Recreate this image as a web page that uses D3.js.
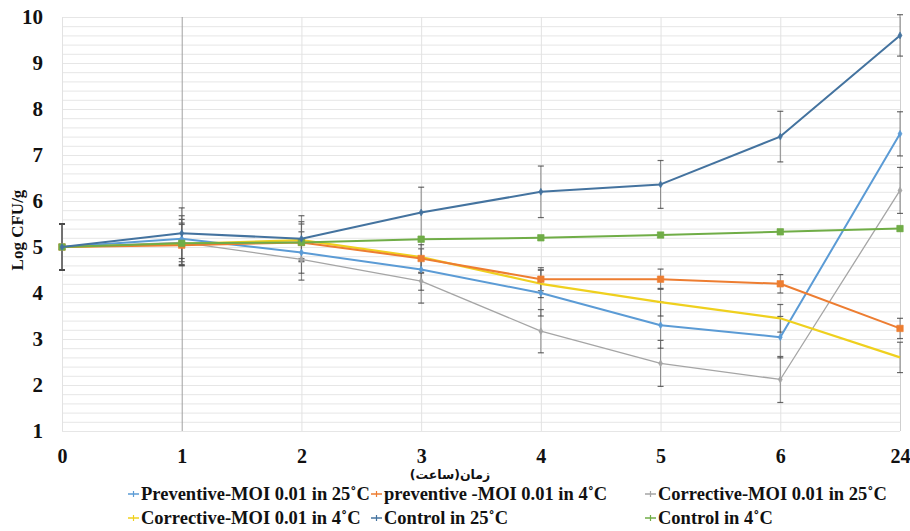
<!DOCTYPE html>
<html><head><meta charset="utf-8">
<script src="https://cdn.jsdelivr.net/npm/d3@7"></script>
<style>
html,body{margin:0;padding:0;background:#fff;}
svg{display:block;}
</style></head>
<body>
<svg id="chart" width="910" height="531"></svg>
<script>
// ---- data ----
const categories = ["0","1","2","3","4","5","6","24"];
const yTicks = [1,2,3,4,5,6,7,8,9,10];
const seriesNames = [
  "Preventive-MOI 0.01 in 25\u02DAC",
  "preventive -MOI 0.01 in 4\u02DAC",
  "Corrective-MOI 0.01 in 25\u02DAC",
  "Corrective-MOI 0.01 in 4\u02DAC",
  "Control in 25\u02DAC",
  "Control in 4\u02DAC"
];
const prev25   = [5, 5.18, 4.88, 4.51, 4.00, 3.30, 3.04, 7.46];
const prev4    = [5, 5.04, 5.10, 4.75, 4.30, 4.30, 4.20, 3.23];
const corr25   = [5, 5.10, 4.73, 4.26, 3.17, 2.47, 2.12, 6.23];
const corr4    = [5, 5.07, 5.15, 4.78, 4.20, 3.80, 3.45, 2.60];
const ctrl25   = [5, 5.30, 5.18, 5.75, 6.20, 6.36, 7.40, 9.60];
const ctrl4    = [5, 5.08, 5.10, 5.17, 5.20, 5.26, 5.33, 5.40];
const prev25Err = [0.50, 0.50, 0.45, 0.45, 0.50, 0.50, 0.45, 0.48];
const prev4Err  = [0.50, 0.45, 0.40, 0.30, 0.25, 0.22, 0.20, 0.22];
const corr25Err = [0.50, 0.50, 0.45, 0.48, 0.47, 0.50, 0.50, 0.50];
const corr4Err  = [0.50, 0.45, 0.40, 0.35, 0.30, 0.30, 0.30, 0.33];
const ctrl25Err = [0.50, 0.55, 0.50, 0.55, 0.56, 0.52, 0.55, 0.45];
const ctrl4Err  = [0.05, 0.05, 0.05, 0.05, 0.05, 0.05, 0.05, 0.05];
const yTitle = "Log CFU/g";
const xTitle = "زمان(ساعت)";

// ---- styles ----
const colors  = ["#5B9BD5", "#ED7D31", "#A5A5A5", "#EFD01E", "#44739F", "#70AD47"];
const widths  = [2, 2, 1.3, 2.2, 2, 2];
const markers = ["diamond", "square", "diamond", "none", "diamond", "square"];
const values  = [prev25, prev4, corr25, corr4, ctrl25, ctrl4];
const errs    = [prev25Err, prev4Err, corr25Err, corr4Err, ctrl25Err, ctrl4Err];
// draw order (back to front)
const drawOrder = [2, 0, 3, 1, 5, 4];

const svg = d3.select("#chart");
const L = 62, R = 900, T = 17, B = 431;
const x = d3.scalePoint().domain(categories).range([L, R]);
const y = d3.scaleLinear().domain([1, 10]).range([B, T]);

// horizontal gridlines every 0.2
const minor = d3.range(1, 10.001, 0.2).map(v => +v.toFixed(1));
svg.append("g").attr("transform", `translate(${L},0)`)
  .call(d3.axisLeft(y).tickValues(minor).tickSize(-(R - L)).tickFormat(""))
  .call(g => g.select(".domain").remove())
  .call(g => g.selectAll("line").attr("stroke", "#e6e6e6").attr("stroke-width", 1));

// vertical gridlines
svg.append("g").attr("transform", `translate(0,${B})`)
  .call(d3.axisBottom(x).tickSize(-(B - T)).tickFormat(""))
  .call(g => g.select(".domain").remove())
  .call(g => g.selectAll("line")
    .attr("stroke", d => d === "1" ? "#a0a0a0" : (d === "24" ? "#cfcfcf" : "#e2e2e2"))
    .attr("stroke-width", 1));

// y axis labels
svg.append("g").attr("transform", `translate(${L},0)`)
  .call(d3.axisLeft(y).tickValues(yTicks).tickSize(0).tickPadding(19).tickFormat(d3.format("d")))
  .call(g => g.select(".domain").remove())
  .call(g => g.selectAll("text")
    .attr("font-family", "'Liberation Serif','Times New Roman',serif")
    .attr("font-weight", "bold").attr("font-size", 21).attr("fill", "#111"));

// x axis labels
svg.append("g").attr("transform", `translate(0,${B})`)
  .call(d3.axisBottom(x).tickSize(0).tickPadding(18))
  .call(g => g.select(".domain").remove())
  .call(g => g.selectAll("text")
    .attr("font-family", "'Liberation Serif','Times New Roman',serif")
    .attr("font-weight", "bold").attr("font-size", 20).attr("fill", "#111"));

// error bars
const eb = svg.append("g");
drawOrder.forEach(si => {
  values[si].forEach((v, i) => {
    const cx = x(categories[i]);
    const e = errs[si][i];
    const y1 = y(v + e), y2 = y(v - e);
    eb.append("line").attr("x1", cx).attr("x2", cx).attr("y1", y1).attr("y2", y2)
      .attr("stroke", "#666").attr("stroke-width", 1).attr("opacity", 0.75);
    [y1, y2].forEach(yy => eb.append("line")
      .attr("x1", cx - 3).attr("x2", cx + 3).attr("y1", yy).attr("y2", yy)
      .attr("stroke", "#444").attr("stroke-width", 1.2).attr("opacity", 0.8));
  });
});

// lines and markers
const line = d3.line().x((d, i) => x(categories[i])).y(d => y(d));
const symMap = { diamond: d3.symbolDiamond, square: d3.symbolSquare };
function drawMarker(g, type, color, cx, cy) {
  if (type === "none") return;
  const size = type === "square" ? 42 : 14;
  g.append("path").attr("d", d3.symbol().type(symMap[type]).size(size)())
    .attr("transform", `translate(${cx},${cy})`)
    .attr("fill", color).attr("stroke", color).attr("stroke-width", 0.6);
}
drawOrder.forEach(si => {
  const g = svg.append("g");
  g.append("path").datum(values[si]).attr("d", line)
    .attr("fill", "none").attr("stroke", colors[si]).attr("stroke-width", widths[si])
    .attr("stroke-linejoin", "round");
  values[si].forEach((v, i) => drawMarker(g, markers[si], colors[si], x(categories[i]), y(v)));
});

// axis titles
svg.append("text")
  .attr("transform", `translate(17,${(T + B) / 2 + 6}) rotate(-90)`)
  .attr("text-anchor", "middle").attr("dominant-baseline", "central")
  .attr("font-family", "'Liberation Serif','Times New Roman',serif")
  .attr("font-weight", "bold").attr("font-size", 17).attr("fill", "#111")
  .text(yTitle);
svg.append("text")
  .attr("x", 450).attr("y", 479)
  .attr("text-anchor", "middle").attr("direction", "rtl")
  .attr("font-family", "'DejaVu Sans',sans-serif")
  .attr("font-weight", "bold").attr("font-size", 12.5).attr("fill", "#111")
  .text(xTitle);

// legend
const legX = [141, 384, 658];
const legY = [494, 518];
const legendOrder = [0, 1, 2, 3, 4, 5];
legendOrder.forEach((si, k) => {
  const col = k % 3, row = Math.floor(k / 3);
  const tx = legX[col], ty = legY[row];
  const g = svg.append("g");
  g.append("line").attr("x1", tx - 13).attr("x2", tx - 2).attr("y1", ty).attr("y2", ty)
    .attr("stroke", colors[si]).attr("stroke-width", 1.5);
  g.append("line").attr("x1", tx - 7.5).attr("x2", tx - 7.5).attr("y1", ty - 3).attr("y2", ty + 3)
    .attr("stroke", colors[si]).attr("stroke-width", 1.2);
  g.append("text").attr("x", tx).attr("y", ty).attr("dominant-baseline", "central")
    .attr("font-family", "'Liberation Serif','Times New Roman',serif")
    .attr("font-weight", "bold").attr("font-size", 18.5).attr("fill", "#111")
    .text(seriesNames[si]);
});
</script>
</body></html>
